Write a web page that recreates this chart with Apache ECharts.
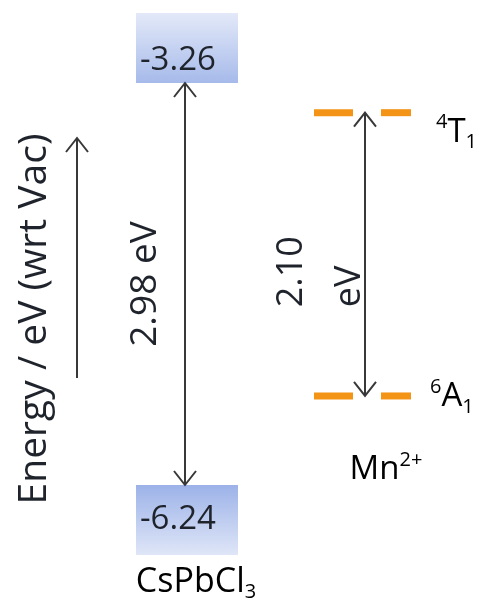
<!DOCTYPE html>
<html>
<head>
<meta charset="utf-8">
<script src="https://cdn.jsdelivr.net/npm/echarts@6/dist/echarts.min.js"></script>
<style>
  html, body { margin: 0; padding: 0; background: #ffffff; }
  #chart { width: 485px; height: 610px; }
</style>
</head>
<body>
<div id="chart"></div>
<script>
// Energy-level diagram: CsPbCl3 band edges and the Mn2+ d-d levels, eV vs vacuum.
const materials = ['CsPbCl3', 'Mn2+'];
const bandEdges = [-3.26, -6.24];          // conduction-band minimum, valence-band maximum
const mnLevels = [-3.48, -5.58];           // 4T1 (excited), 6A1 (ground)
const mnLevelNames = [['4', 'T', '1'], ['6', 'A', '1']];
const axisTitle = 'Energy / eV (wrt Vac)';

const FONT = '"Open Sans", sans-serif';
const INK = '#1f232c';
const LINE = '#383838';
const ORANGE = '#f39416';

const rich = {
  b:   { fontSize: 33, fontFamily: FONT, color: INK, lineHeight: 40 },
  sup: { fontSize: 20, fontFamily: FONT, color: INK, lineHeight: 22, verticalAlign: 'top' },
  sub: { fontSize: 20, fontFamily: FONT, color: INK, lineHeight: 22, verticalAlign: 'bottom' }
};
const richHost = Object.assign({}, rich, {
  b: Object.assign({}, rich.b, { fontSize: 34 })
});

const gapText = (hi, lo) => (hi - lo).toFixed(2);

// open chevron head; dir = -1 points up, +1 points down
function chevron(x, y, dir) {
  return {
    type: 'polyline',
    shape: { points: [[x - 11, y - dir * 14], [x, y], [x + 11, y - dir * 14]] },
    style: { stroke: LINE, lineWidth: 2, fill: null }
  };
}

function doubleArrow(x, yTop, yBot) {
  return [
    { type: 'line', shape: { x1: x, y1: yTop, x2: x, y2: yBot }, style: { stroke: LINE, lineWidth: 2 } },
    chevron(x, yTop, -1),
    chevron(x, yBot, 1)
  ];
}

const chart = echarts.init(document.getElementById('chart'), null, { renderer: 'canvas' });

chart.setOption({
  animation: false,
  backgroundColor: '#ffffff',
  grid: { left: 95, right: 30, top: 83, bottom: 125 },
  xAxis: { type: 'category', data: materials, show: false, boundaryGap: true },
  yAxis: { type: 'value', min: Math.min(...bandEdges), max: Math.max(...bandEdges), show: false },
  graphic: [
    { type: 'line', shape: { x1: 77, y1: 378, x2: 77, y2: 138 }, style: { stroke: LINE, lineWidth: 2 } },
    chevron(77, 138, -1),
    {
      type: 'text', x: 35, y: 319, rotation: Math.PI / 2,
      style: { text: axisTitle, fontFamily: FONT, fontSize: 39, fill: INK, align: 'center', verticalAlign: 'middle' }
    }
  ],
  series: [
    {
      // CsPbCl3 band-edge boxes
      type: 'custom',
      name: 'bands',
      clip: false,
      data: bandEdges.map((v, i) => [0, v, i]),
      renderItem(params, api) {
        const p = api.coord([api.value(0), api.value(1)]);
        const isCB = api.value(2) === 0;
        const w = 102, h = 70;
        const stops = isCB
          ? [{ offset: 0, color: '#e3e9f8' }, { offset: 1, color: '#a6baea' }]
          : [{ offset: 0, color: '#9cb2e8' }, { offset: 1, color: '#dfe6f7' }];
        return {
          type: 'group',
          children: [
            {
              type: 'rect',
              shape: { x: p[0] - w / 2 + 2, y: isCB ? p[1] - h : p[1], width: w, height: h },
              style: { fill: new echarts.graphic.LinearGradient(0, 0, 0, 1, stops) }
            },
            {
              type: 'text', x: p[0] - 45, y: isCB ? p[1] - 22 : p[1] + 35,
              style: { text: api.value(1).toFixed(2), fontFamily: FONT, fontSize: 33, fill: INK, align: 'left', verticalAlign: 'middle' }
            }
          ]
        };
      }
    },
    {
      // gap arrows with their energy labels
      type: 'custom',
      name: 'gaps',
      clip: false,
      data: [[0, bandEdges[0], bandEdges[1]], [1, mnLevels[0], mnLevels[1]]],
      renderItem(params, api) {
        const top = api.coord([api.value(0), api.value(1)]);
        const bot = api.coord([api.value(0), api.value(2)]);
        const gap = gapText(api.value(1), api.value(2));
        const kids = doubleArrow(top[0], top[1], bot[1]);
        if (params.dataIndex === 0) {
          kids.push({
            type: 'text', x: top[0] - 40, y: (top[1] + bot[1]) / 2, rotation: Math.PI / 2,
            style: { text: gap + ' eV', fontFamily: FONT, fontSize: 37, fill: INK, align: 'center', verticalAlign: 'middle' }
          });
        } else {
          kids.push({
            type: 'text', x: top[0] - 44, y: (top[1] + bot[1]) / 2 + 53, rotation: Math.PI / 2,
            style: { text: gap + '\neV', fontFamily: FONT, fontSize: 36, lineHeight: 58, fill: INK, align: 'left', verticalAlign: 'middle' }
          });
        }
        return { type: 'group', children: kids };
      }
    },
    {
      // Mn2+ levels: split orange dashes and term symbols
      type: 'custom',
      name: 'mn',
      clip: false,
      data: mnLevels.map((v, i) => [1, v, i]),
      renderItem(params, api) {
        const p = api.coord([api.value(0), api.value(1)]);
        const i = api.value(2);
        const n = mnLevelNames[i];
        const dx = i === 0 ? 71 : 65;
        const dy = i === 0 ? 20 : 1;
        const kids = [
          { type: 'rect', shape: { x: p[0] - 51, y: p[1] - 3.5, width: 39, height: 7 }, style: { fill: ORANGE } },
          { type: 'rect', shape: { x: p[0] + 16, y: p[1] - 3.5, width: 30, height: 7 }, style: { fill: ORANGE } },
          {
            type: 'text', x: p[0] + dx, y: p[1] + dy,
            style: { text: '{sup|' + n[0] + '}{b|' + n[1] + '}{sub|' + n[2] + '}', rich, align: 'left', verticalAlign: 'middle' }
          }
        ];
        return { type: 'group', children: kids };
      }
    },
    {
      // material names under each column
      type: 'custom',
      name: 'names',
      clip: false,
      data: [[0, bandEdges[1], 0], [1, mnLevels[1], 1]],
      renderItem(params, api) {
        const p = api.coord([api.value(0), api.value(1)]);
        const isHost = api.value(2) === 0;
        const text = isHost ? '{b|CsPbCl}{sub|3}' : '{b|Mn}{sup|2+}';
        return {
          type: 'text',
          x: p[0] + (isHost ? 11 : 21),
          y: p[1] + (isHost ? 97 : 74),
          style: { text, rich: isHost ? richHost : rich, align: 'center', verticalAlign: 'middle' }
        };
      }
    }
  ]
});
</script>
</body>
</html>
